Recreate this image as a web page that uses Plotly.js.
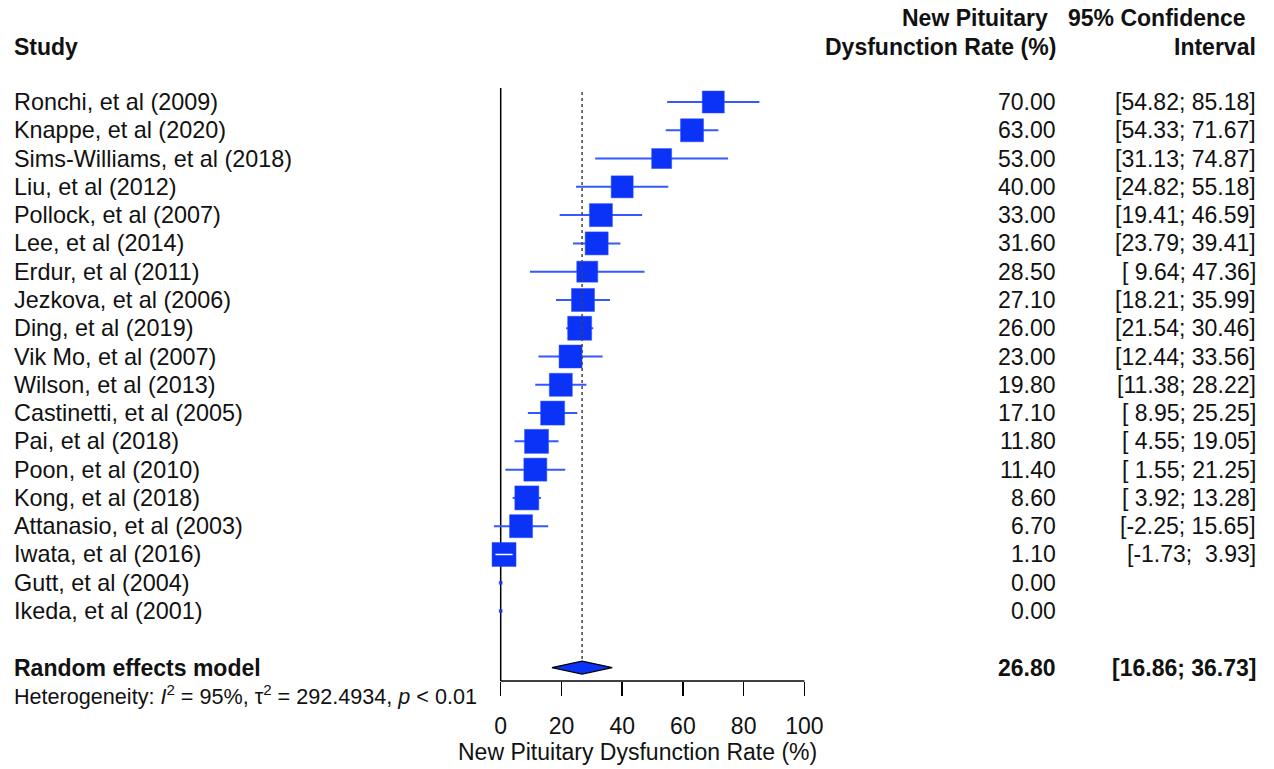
<!DOCTYPE html>
<html>
<head>
<meta charset="utf-8">
<script src="https://cdn.plot.ly/plotly-3.0.1.min.js"></script>
<style>
  html, body { margin: 0; padding: 0; background: #fff; }
  #chart { width: 1274px; height: 769px; }
</style>
</head>
<body>
<div id="chart"></div>
<script>
// ---- Data ----
const studies = [
  'Ronchi, et al (2009)', 'Knappe, et al (2020)', 'Sims-Williams, et al (2018)',
  'Liu, et al (2012)', 'Pollock, et al (2007)', 'Lee, et al (2014)',
  'Erdur, et al (2011)', 'Jezkova, et al (2006)', 'Ding, et al (2019)',
  'Vik Mo, et al (2007)', 'Wilson, et al (2013)', 'Castinetti, et al (2005)',
  'Pai, et al (2018)', 'Poon, et al (2010)', 'Kong, et al (2018)',
  'Attanasio, et al (2003)', 'Iwata, et al (2016)', 'Gutt, et al (2004)',
  'Ikeda, et al (2001)'
];
const rate    = [70.00, 63.00, 53.00, 40.00, 33.00, 31.60, 28.50, 27.10, 26.00, 23.00, 19.80, 17.10, 11.80, 11.40, 8.60, 6.70, 1.10, 0.00, 0.00];
const ciLower = [54.82, 54.33, 31.13, 24.82, 19.41, 23.79, 9.64, 18.21, 21.54, 12.44, 11.38, 8.95, 4.55, 1.55, 3.92, -2.25, -1.73, null, null];
const ciUpper = [85.18, 71.67, 74.87, 55.18, 46.59, 39.41, 47.36, 35.99, 30.46, 33.56, 28.22, 25.25, 19.05, 21.25, 13.28, 15.65, 3.93, null, null];

const pooledLabel = 'Random effects model';
const pooled = 26.80;
const pooledLower = 16.86;
const pooledUpper = 36.73;
const heterogeneityText = 'Heterogeneity: <i>I</i><sup>2</sup> = 95%, \u03c4<sup>2</sup> = 292.4934, <i>p</i> < 0.01';

const xTicks = [0, 20, 40, 60, 80, 100];
const xTitle = 'New Pituitary Dysfunction Rate (%)';

// ---- Styling (not data) ----
const squareSizePx = [22, 23, 20, 22, 23, 23, 21, 23, 24, 23, 23, 24, 24, 23, 24, 23, 24, 3, 3];
const FONT = 'Liberation Sans, Arial, Helvetica, sans-serif';
const FS = 23;
const FS_LABEL = 23.4;
const TXT = '#111111';
const SQ = '#0a33f7';
const CI_COL = '#3558ff';

const W = 1274, H = 769;
const pxZero = 500.7, pxPerUnit = 3.037;          // x scale
const xMin = -pxZero / pxPerUnit;
const xMax = xMin + W / pxPerUnit;
const plotBottom = 681, rowTop = 102, rowStep = 28.28; // y scale
const yTopIdx = -rowTop / rowStep;
const yBotIdx = (plotBottom - rowTop) / rowStep;
const pooledRow = studies.length + 1;
const pyToIdx = py => (py - rowTop) / rowStep;

const idx = studies.map((_, i) => i);

// CI segments: blue outside square, white if fully inside square
const ciX = [], ciY = [], inX = [], inY = [];
idx.forEach(i => {
  if (ciLower[i] === null) return;
  const half = squareSizePx[i] / 2 / pxPerUnit;
  const inside = ciLower[i] > rate[i] - half && ciUpper[i] < rate[i] + half;
  if (inside) { inX.push(ciLower[i], ciUpper[i], null); inY.push(i, i, null); }
  else { ciX.push(ciLower[i], ciUpper[i], null); ciY.push(i, i, null); }
});

const dh = 6.5 / rowStep;
const traces = [
  { type: 'scatter', mode: 'lines', x: ciX, y: ciY, line: { color: CI_COL, width: 2 }, hoverinfo: 'skip', cliponaxis: false },
  { type: 'scatter', mode: 'markers', x: rate, y: idx,
    marker: { symbol: 'square', size: squareSizePx, color: SQ, opacity: 1, line: { width: 0.5, color: '#2a4cff' } },
    hoverinfo: 'skip', cliponaxis: false },
  { type: 'scatter', mode: 'lines', x: inX, y: inY, line: { color: '#ffffff', width: 1.5 }, hoverinfo: 'skip', cliponaxis: false },
  { type: 'scatter', mode: 'lines',
    x: [pooledLower, pooled, pooledUpper, pooled, pooledLower],
    y: [pooledRow, pooledRow - dh, pooledRow, pooledRow + dh, pooledRow],
    fill: 'toself', fillcolor: SQ, line: { color: '#000', width: 1.2 }, hoverinfo: 'skip' }
];

const fmt2 = v => v.toFixed(2);
const pad5 = s => s.padStart(5, '\u00a0');
const ciText = (lo, hi) => '[' + pad5(fmt2(lo)) + ';\u00a0' + pad5(fmt2(hi)) + ']';

const xLeftPaper = 12 / W;
const xRatePaper = 1058 / W;
const xCiPaper = 1258 / W;

const ann = [];
const txt = (x, y, text, anchor, bold, size, yref) => ann.push({
  xref: 'paper', yref: yref || 'y', x: x, y: y, text: bold ? '<b>' + text + '</b>' : text,
  xanchor: anchor, yanchor: 'middle', showarrow: false,
  font: { family: FONT, size: size || FS, color: TXT }
});

// headers
txt(xLeftPaper, pyToIdx(47), 'Study', 'left', true);
txt(1050 / W, pyToIdx(18), 'New Pituitary', 'right', true);
txt(xRatePaper, pyToIdx(47), 'Dysfunction Rate (%)', 'right', true);
txt(1248 / W, pyToIdx(18), '95% Confidence', 'right', true);
txt(xCiPaper, pyToIdx(47), 'Interval', 'right', true);

idx.forEach(i => {
  txt(xLeftPaper, i, studies[i], 'left', false, FS_LABEL);
  txt(xRatePaper, i, fmt2(rate[i]), 'right', false);
  if (ciLower[i] !== null) txt(xCiPaper, i, ciText(ciLower[i], ciUpper[i]), 'right', false);
});

txt(xLeftPaper, pooledRow, pooledLabel, 'left', true);
txt(xRatePaper, pooledRow, fmt2(pooled), 'right', true);
txt(xCiPaper, pooledRow, ciText(pooledLower, pooledUpper), 'right', true);
txt(xLeftPaper, (plotBottom - 695) / plotBottom, heterogeneityText, 'left', false, 21.6, 'paper');
txt(637 / W, (plotBottom - 752) / plotBottom, xTitle, 'center', false, FS, 'paper');

const shapes = [
  { type: 'line', layer: 'below', xref: 'x', yref: 'y', x0: 0, x1: 0, y0: pyToIdx(88), y1: yBotIdx,
    line: { color: '#000', width: 1.5 } },
  { type: 'line', layer: 'above', xref: 'x', yref: 'y', x0: pooled, x1: pooled, y0: pyToIdx(92), y1: pooledRow - dh,
    line: { color: '#444', width: 1.5, dash: 'dot' } },
  { type: 'line', xref: 'x', yref: 'paper', x0: xTicks[0], x1: xTicks[xTicks.length - 1], y0: 0, y1: 0,
    line: { color: '#000', width: 1.5 } }
];

const layout = {
  width: W, height: H,
  margin: { l: 0, r: 0, t: 0, b: H - plotBottom, pad: 0 },
  paper_bgcolor: '#fff', plot_bgcolor: '#fff',
  showlegend: false, hovermode: false,
  xaxis: {
    range: [xMin, xMax], showgrid: false, zeroline: false, showline: false,
    tickmode: 'array', tickvals: xTicks, ticktext: xTicks.map(String),
    ticks: 'outside', ticklen: 14, tickwidth: 1.5, tickcolor: '#000',
    ticklabelstandoff: 10,
    tickfont: { family: FONT, size: FS, color: TXT }, fixedrange: true
  },
  yaxis: { range: [yBotIdx, yTopIdx], visible: false, fixedrange: true },
  shapes: shapes,
  annotations: ann
};

Plotly.newPlot('chart', traces, layout, { staticPlot: true, displayModeBar: false });
</script>
</body>
</html>
